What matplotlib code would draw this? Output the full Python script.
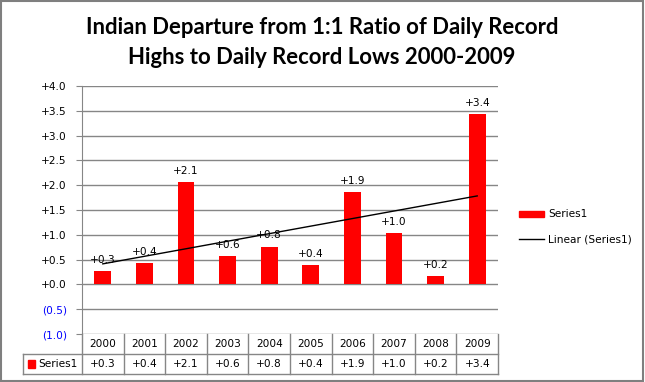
import matplotlib.pyplot as plt
import numpy as np
from matplotlib.patches import Rectangle
from matplotlib.lines import Line2D
from matplotlib.transforms import blended_transform_factory

years = ["2000", "2001", "2002", "2003", "2004", "2005", "2006", "2007", "2008", "2009"]
values = [0.27, 0.43, 2.06, 0.57, 0.76, 0.39, 1.86, 1.04, 0.17, 3.44]
yticks = [-1.0, -0.5, 0.0, 0.5, 1.0, 1.5, 2.0, 2.5, 3.0, 3.5, 4.0]
series_name = "Series1"
trend_name = "Linear (Series1)"
title_lines = ["Indian Departure from 1:1 Ratio of Daily Record",
               "Highs to Daily Record Lows 2000-2009"]

W, H = 645, 382
GRID = "#868686"
FS = 7.6


def fx(x):
    return x / W


def fy(y):
    return 1 - y / H


def fmt(v):
    if v < 0:
        return f"({abs(v):.1f})"
    return f"{v:+.1f}"


fig = plt.figure(figsize=(W / 100, H / 100), dpi=100)
plt.rcParams["font.family"] = ["DejaVu Sans"]

# outer border
fig.patches.append(Rectangle((fx(1), fy(381)), fx(642), 380 / H, transform=fig.transFigure,
                             fill=False, edgecolor="#7f7f7f", linewidth=1.5))

left, right, top, bottom = 82, 498, 86, 334
ax = fig.add_axes([fx(left), fy(bottom), fx(right - left), (bottom - top) / H])

x = np.arange(len(values))
y = np.array(values)
ax.bar(x, y, width=0.4, color="#ff0000", zorder=3)
m, b = np.polyfit(x, y, 1)
ax.plot(x, m * x + b, color="black", linewidth=1.0, zorder=4)

for xi, v in zip(x, values):
    ax.annotate(fmt(v), (xi, v), xytext=(0, 4.5), textcoords="offset points",
                ha="center", va="bottom", fontsize=FS, zorder=5)

ax.set_xlim(-0.5, len(values) - 0.5)
ax.set_ylim(-1.0, 4.0)
ax.set_yticks(yticks)
ax.set_yticklabels([fmt(t) for t in yticks])
for lbl, t in zip(ax.get_yticklabels(), yticks):
    lbl.set_color("#0000ff" if t < 0 else "black")
ax.tick_params(axis="y", length=4, color=GRID, labelsize=FS, pad=7)
ax.set_xticks([])
ax.yaxis.grid(True, color=GRID, linewidth=1)
ax.set_axisbelow(True)
for s in ["top", "right", "bottom"]:
    ax.spines[s].set_visible(False)
ax.spines["left"].set_color(GRID)

# data table below axis
tr = blended_transform_factory(ax.transData, fig.transFigure)
row1_top, row1_bot, row2_bot = 334, 354, 374
for i, (yr, v) in enumerate(zip(years, values)):
    ax.text(i, fy((row1_top + row1_bot) / 2), yr, transform=tr, ha="center", va="center",
            fontsize=FS, clip_on=False)
    ax.text(i, fy((row1_bot + row2_bot) / 2), fmt(v), transform=tr, ha="center", va="center",
            fontsize=FS, clip_on=False)
for i in range(len(values) + 1):
    fig.lines.append(Line2D([fx(left + i * (right - left) / len(values))] * 2,
                            [fy(row1_top), fy(row2_bot)], transform=fig.transFigure,
                            color=GRID, linewidth=1))
fig.lines.append(Line2D([fx(23), fx(right)], [fy(row1_bot)] * 2, transform=fig.transFigure,
                        color=GRID, linewidth=1))
fig.lines.append(Line2D([fx(23), fx(right)], [fy(row2_bot)] * 2, transform=fig.transFigure,
                        color=GRID, linewidth=1))
fig.lines.append(Line2D([fx(23)] * 2, [fy(row1_bot), fy(row2_bot)], transform=fig.transFigure,
                        color=GRID, linewidth=1))
fig.patches.append(Rectangle((fx(28), fy(368)), fx(7), 8 / H, transform=fig.transFigure,
                             color="#ff0000"))
fig.text(fx(38), fy(364), series_name, fontsize=FS, va="center")

# legend on the right
fig.patches.append(Rectangle((fx(519), fy(217.5)), fx(25), 6 / H, transform=fig.transFigure,
                             color="#ff0000"))
fig.text(fx(548), fy(214), series_name, fontsize=FS, va="center")
fig.lines.append(Line2D([fx(519), fx(544)], [fy(239)] * 2, transform=fig.transFigure,
                        color="black", linewidth=1))
fig.text(fx(548), fy(239), trend_name, fontsize=FS, va="center")

for line, ypix in zip(title_lines, [27, 57]):
    fig.text(fx(322), fy(ypix), line, ha="center", va="center", fontsize=15.9,
             fontweight="bold", family="Lato")

fig.savefig("out.png", dpi=100)
